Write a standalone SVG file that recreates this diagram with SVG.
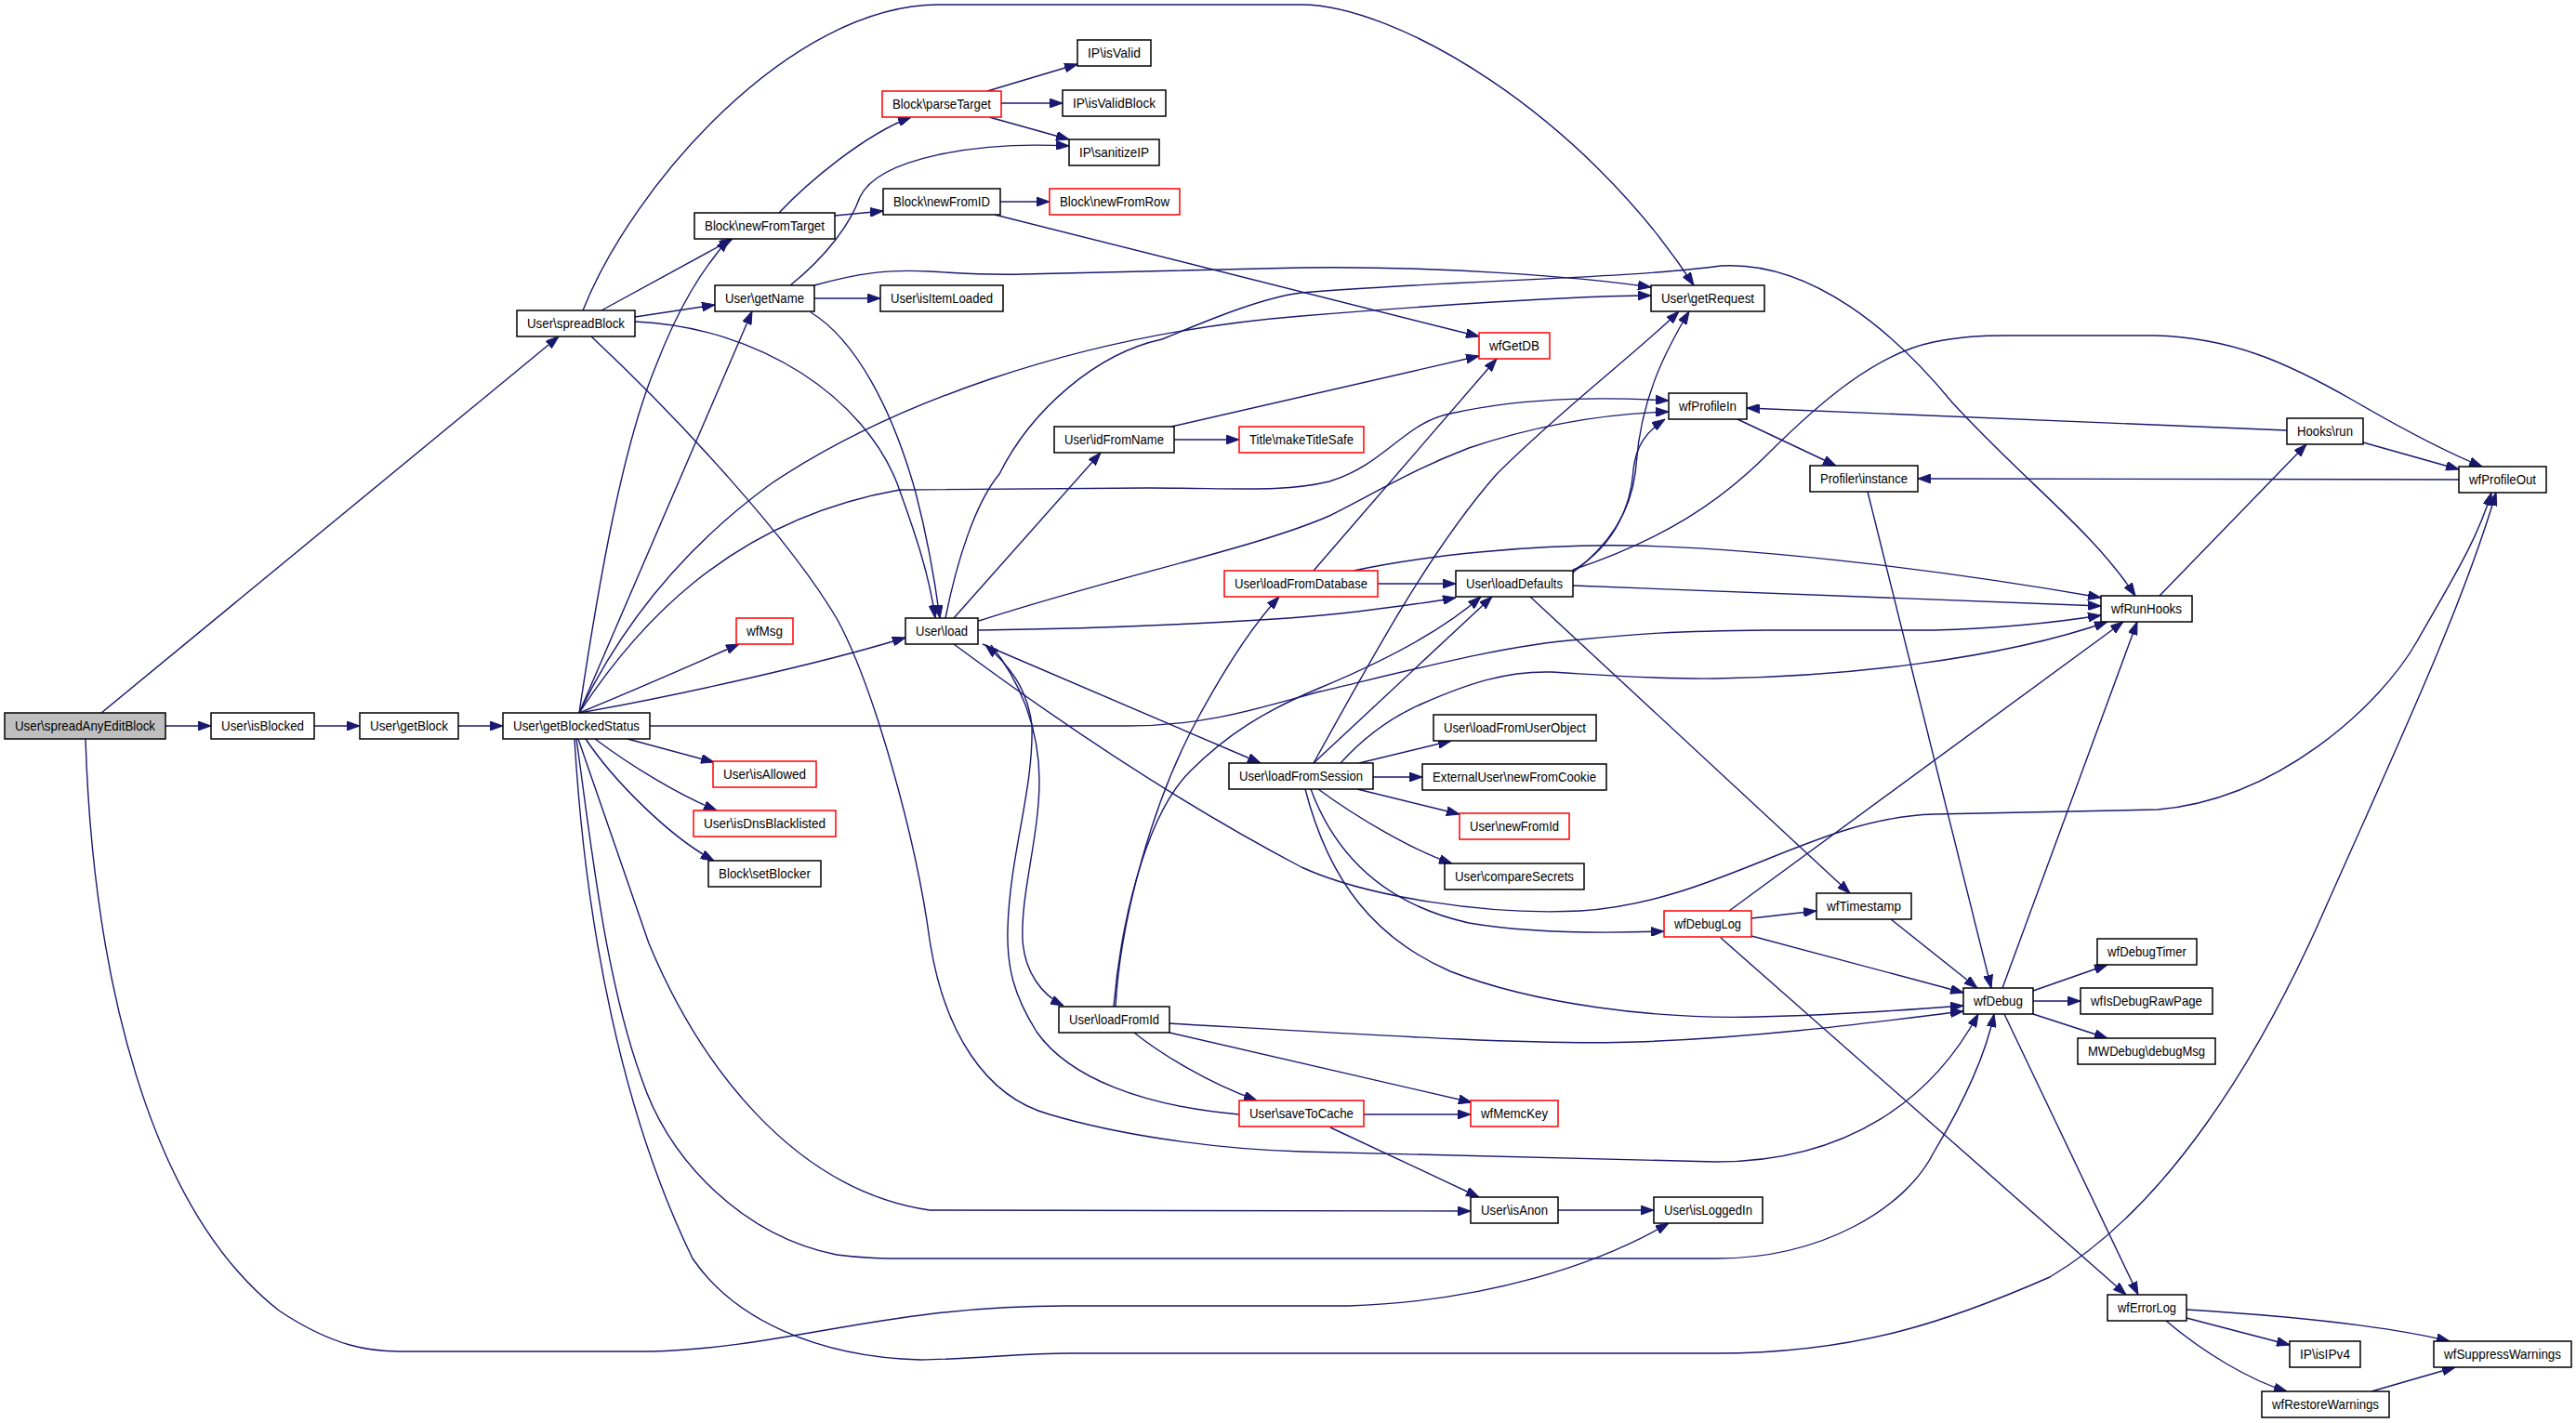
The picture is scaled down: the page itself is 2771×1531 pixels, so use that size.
<svg xmlns="http://www.w3.org/2000/svg" width="2771" height="1531" viewBox="0 0 2771 1531">
<style>
.n rect{fill:#fff;stroke:#000;stroke-width:1.5}
.r rect{stroke:#ff0000}
.g rect{fill:#bfbfbf}
.n text{font-family:"Liberation Sans",Arial,sans-serif;font-size:15px;text-anchor:middle;fill:#000}
#edges path{fill:none;stroke:#191970;stroke-width:1.4;marker-end:url(#a)}
</style>
<defs>
<marker id="a" viewBox="0 0 14 10" refX="14" refY="5" markerWidth="14" markerHeight="10" markerUnits="userSpaceOnUse" orient="auto" preserveAspectRatio="none"><path d="M0,0 L14,5 L0,10 z" fill="#191970" stroke="#191970" stroke-width="1"/></marker>
</defs>
<rect width="2771" height="1531" fill="#fff"/>
<g id="edges">
<path d="M178,781 L227,781"/>
<path d="M338,781 L387,781"/>
<path d="M493,781 L541,781"/>
<path d="M109,767 L601,362"/>
<path d="M92,795 C100,1050 160,1300 300,1410 C360,1450 400,1454 430,1454 L700,1454 C850,1450 950,1405 1146,1405 L1450,1405 C1600,1400 1720,1360 1795,1316"/>
<path d="M627,334 C680,200 850,5 1010,5 L1400,5 C1500,5 1700,120 1822,307"/>
<path d="M647,334 L788,257"/>
<path d="M683,341 L769,328"/>
<path d="M683,346 C820,352 930,430 965,520 C985,575 1000,620 1006,665"/>
<path d="M636,362 C730,450 850,580 901,667 C940,740 985,900 1000,1011 C1015,1110 1060,1180 1129,1199 C1200,1220 1300,1236 1400,1239 L1846,1250 C1990,1250 2080,1180 2128,1091"/>
<path d="M623,767 C645,620 670,480 705,395 C730,330 755,290 784,257"/>
<path d="M623,767 L809,335"/>
<path d="M623,767 C660,690 720,600 830,520 C950,440 1150,360 1400,340 C1550,328 1700,318 1776,318"/>
<path d="M623,767 C680,680 780,560 968,527 L1236,525 C1330,525 1380,530 1430,518 C1490,500 1510,455 1560,445 C1650,425 1740,428 1795,431"/>
<path d="M623,767 Q700,735 795,693"/>
<path d="M623,767 C720,750 880,715 974,686"/>
<path d="M699,781 L1213,781 C1300,781 1360,760 1420,744 C1530,718 1620,694 1700,688 C1760,682 1800,679 1900,678 L2080,678 C2150,676 2210,670 2260,662"/>
<path d="M675,795 L768,820"/>
<path d="M640,795 C680,825 730,855 771,872"/>
<path d="M630,795 C660,840 720,900 768,926"/>
<path d="M622,795 L698,1015 C750,1140 850,1280 1000,1302 L1582,1303"/>
<path d="M620,795 C635,900 650,1050 690,1160 C720,1250 800,1330 900,1350 C930,1354 950,1354 980,1354 L1846,1354 C1960,1354 2050,1300 2080,1240 C2110,1190 2135,1140 2145,1091"/>
<path d="M618,795 C630,1000 670,1200 745,1354 C790,1420 880,1460 990,1463 C1050,1462 1100,1456 1150,1456 L1846,1456 C2000,1456 2100,1420 2205,1374 C2330,1300 2430,1140 2500,980 C2580,800 2650,650 2685,530"/>
<path d="M838,229 C870,195 930,145 980,126"/>
<path d="M898,232 L950,227"/>
<path d="M1076,217 L1129,217"/>
<path d="M1070,231 L1591,362"/>
<path d="M1062,98 L1159,69"/>
<path d="M1077,111 L1143,111"/>
<path d="M1064,126 L1150,150"/>
<path d="M850,307 C890,275 915,240 925,212 C945,170 1050,152 1150,157"/>
<path d="M876,321 L947,321"/>
<path d="M872,336 C920,365 960,440 985,530 C998,580 1005,620 1011,665"/>
<path d="M876,307 C930,292 960,290 1000,292 C1030,294 1060,296 1100,295 L1400,288 C1550,286 1700,298 1776,309"/>
<path d="M1017,665 C1030,600 1050,540 1075,510 C1110,440 1180,380 1250,365 C1310,340 1360,320 1400,315 C1550,302 1750,300 1851,286 C1950,280 2040,360 2100,433 C2180,520 2250,570 2297,641"/>
<path d="M1026,665 L1184,487"/>
<path d="M1053,668 C1200,620 1350,590 1430,555 C1480,530 1520,505 1580,482 C1660,455 1730,445 1795,443"/>
<path d="M1053,678 C1200,676 1380,668 1460,658 C1500,653 1540,648 1566,643"/>
<path d="M1057,693 L1356,821"/>
<path d="M1066,694 C1095,730 1118,780 1118,840 C1118,900 1098,960 1100,1011 C1102,1045 1120,1070 1144,1082"/>
<path d="M1333,1199 C1230,1190 1150,1160 1115,1110 C1090,1070 1083,1040 1084,1000 C1086,920 1112,850 1110,780 C1105,740 1085,715 1060,694"/>
<path d="M1200,1083 C1205,990 1240,860 1290,770 C1320,715 1350,670 1376,642"/>
<path d="M1198,1083 C1205,1000 1230,880 1280,830 C1320,790 1360,765 1420,740 C1480,715 1550,680 1593,642"/>
<path d="M1220,1111 C1250,1135 1300,1165 1352,1184"/>
<path d="M1258,1111 L1583,1186"/>
<path d="M1258,1101 C1450,1112 1650,1125 1760,1121 C1900,1116 2030,1098 2112,1088"/>
<path d="M1467,1199 L1582,1199"/>
<path d="M1431,1213 L1591,1288"/>
<path d="M1676,1302 L1779,1302"/>
<path d="M1482,628 L1566,628"/>
<path d="M1413,614 L1610,386"/>
<path d="M1456,614 C1530,598 1650,585 1757,587 C1900,590 2100,615 2260,643"/>
<path d="M1263,473 L1333,473"/>
<path d="M1260,459 L1591,383"/>
<path d="M1413,821 C1480,700 1540,590 1610,510 C1680,440 1760,380 1806,335"/>
<path d="M1413,821 L1605,642"/>
<path d="M1442,821 C1470,790 1500,770 1530,757 C1580,735 1620,722 1668,723 C1720,726 1780,731 1846,730 C1980,728 2150,710 2267,669"/>
<path d="M1462,821 L1561,797"/>
<path d="M1477,836 L1530,836"/>
<path d="M1460,849 L1570,876"/>
<path d="M1418,849 C1460,880 1520,915 1562,929"/>
<path d="M1410,849 C1440,930 1500,975 1580,993 C1650,1005 1730,1004 1790,1002"/>
<path d="M1404,849 C1430,950 1480,1010 1560,1045 C1650,1080 1780,1097 1891,1094 C1980,1092 2060,1086 2112,1082"/>
<path d="M1692,616 C1740,580 1757,540 1760,500 C1765,430 1790,380 1817,335"/>
<path d="M1692,614 C1740,585 1755,540 1757,505 C1760,480 1770,465 1791,451"/>
<path d="M1692,613 C1790,580 1850,540 1900,490 C1960,430 2020,380 2080,368 C2110,362 2130,361 2160,361 L2317,361 C2400,363 2460,390 2530,430 C2590,465 2640,490 2670,502"/>
<path d="M1692,630 L2260,652"/>
<path d="M1646,642 L1990,961"/>
<path d="M1860,980 L2284,669"/>
<path d="M1884,988 L1954,980"/>
<path d="M1884,1007 L2112,1068"/>
<path d="M1851,1009 L2287,1393"/>
<path d="M2034,989 L2127,1063"/>
<path d="M2009,529 L2142,1063"/>
<path d="M1869,451 L1975,501"/>
<path d="M2645,516 L2063,515"/>
<path d="M2460,463 L1879,439"/>
<path d="M2542,476 L2645,505"/>
<path d="M2323,641 L2481,478"/>
<path d="M2154,1063 L2299,669"/>
<path d="M2187,1066 L2267,1038"/>
<path d="M2187,1077 L2238,1077"/>
<path d="M2187,1091 L2267,1117"/>
<path d="M2156,1091 L2300,1393"/>
<path d="M2352,1418 L2463,1447"/>
<path d="M2352,1409 C2450,1415 2560,1425 2635,1443"/>
<path d="M2330,1421 C2370,1455 2420,1485 2460,1497"/>
<path d="M2551,1497 L2641,1471"/>
<path d="M1026,693 C1150,785 1280,870 1400,933 C1470,965 1600,985 1700,980 C1850,970 1950,880 2080,876 L2321,871 C2450,860 2560,760 2600,690 C2640,620 2665,580 2680,530"/>
</g>
<g id="n1" class="n g"><rect x="5" y="767" width="173" height="28"/><text x="91.5" y="786" textLength="151" lengthAdjust="spacingAndGlyphs">User\spreadAnyEditBlock</text></g>
<g id="n2" class="n"><rect x="227" y="767" width="111" height="28"/><text x="282.5" y="786" textLength="89" lengthAdjust="spacingAndGlyphs">User\isBlocked</text></g>
<g id="n3" class="n"><rect x="387" y="767" width="106" height="28"/><text x="440" y="786" textLength="84" lengthAdjust="spacingAndGlyphs">User\getBlock</text></g>
<g id="n4" class="n"><rect x="541" y="767" width="158" height="28"/><text x="620" y="786" textLength="136" lengthAdjust="spacingAndGlyphs">User\getBlockedStatus</text></g>
<g id="n5" class="n"><rect x="556" y="334" width="127" height="28"/><text x="619.5" y="353" textLength="105" lengthAdjust="spacingAndGlyphs">User\spreadBlock</text></g>
<g id="n6" class="n"><rect x="747" y="229" width="151" height="28"/><text x="822.5" y="248" textLength="129" lengthAdjust="spacingAndGlyphs">Block\newFromTarget</text></g>
<g id="n7" class="n"><rect x="769" y="307" width="107" height="28"/><text x="822.5" y="326" textLength="85" lengthAdjust="spacingAndGlyphs">User\getName</text></g>
<g id="n8" class="n r"><rect x="792" y="665" width="61" height="28"/><text x="822.5" y="684" textLength="39" lengthAdjust="spacingAndGlyphs">wfMsg</text></g>
<g id="n9" class="n r"><rect x="767" y="819" width="111" height="28"/><text x="822.5" y="838" textLength="89" lengthAdjust="spacingAndGlyphs">User\isAllowed</text></g>
<g id="n10" class="n r"><rect x="746" y="872" width="153" height="28"/><text x="822.5" y="891" textLength="131" lengthAdjust="spacingAndGlyphs">User\isDnsBlacklisted</text></g>
<g id="n11" class="n"><rect x="762" y="926" width="121" height="28"/><text x="822.5" y="945" textLength="99" lengthAdjust="spacingAndGlyphs">Block\setBlocker</text></g>
<g id="n12" class="n r"><rect x="949" y="98" width="128" height="28"/><text x="1013" y="117" textLength="106" lengthAdjust="spacingAndGlyphs">Block\parseTarget</text></g>
<g id="n13" class="n"><rect x="950" y="203" width="126" height="28"/><text x="1013" y="222" textLength="104" lengthAdjust="spacingAndGlyphs">Block\newFromID</text></g>
<g id="n14" class="n"><rect x="947" y="307" width="132" height="28"/><text x="1013" y="326" textLength="110" lengthAdjust="spacingAndGlyphs">User\isItemLoaded</text></g>
<g id="n15" class="n"><rect x="974" y="665" width="78" height="28"/><text x="1013" y="684" textLength="56" lengthAdjust="spacingAndGlyphs">User\load</text></g>
<g id="n16" class="n"><rect x="1159" y="43" width="79" height="28"/><text x="1198.5" y="62" textLength="57" lengthAdjust="spacingAndGlyphs">IP\isValid</text></g>
<g id="n17" class="n"><rect x="1143" y="97" width="111" height="28"/><text x="1198.5" y="116" textLength="89" lengthAdjust="spacingAndGlyphs">IP\isValidBlock</text></g>
<g id="n18" class="n"><rect x="1150" y="150" width="97" height="28"/><text x="1198.5" y="169" textLength="75" lengthAdjust="spacingAndGlyphs">IP\sanitizeIP</text></g>
<g id="n19" class="n r"><rect x="1129" y="203" width="140" height="28"/><text x="1199" y="222" textLength="118" lengthAdjust="spacingAndGlyphs">Block\newFromRow</text></g>
<g id="n20" class="n"><rect x="1134" y="459" width="129" height="28"/><text x="1198.5" y="478" textLength="107" lengthAdjust="spacingAndGlyphs">User\idFromName</text></g>
<g id="n21" class="n"><rect x="1139" y="1083" width="119" height="28"/><text x="1198.5" y="1102" textLength="97" lengthAdjust="spacingAndGlyphs">User\loadFromId</text></g>
<g id="n22" class="n r"><rect x="1333" y="459" width="134" height="28"/><text x="1400" y="478" textLength="112" lengthAdjust="spacingAndGlyphs">Title\makeTitleSafe</text></g>
<g id="n23" class="n r"><rect x="1317" y="614" width="165" height="28"/><text x="1399.5" y="633" textLength="143" lengthAdjust="spacingAndGlyphs">User\loadFromDatabase</text></g>
<g id="n24" class="n"><rect x="1322" y="821" width="155" height="28"/><text x="1399.5" y="840" textLength="133" lengthAdjust="spacingAndGlyphs">User\loadFromSession</text></g>
<g id="n25" class="n r"><rect x="1333" y="1184" width="134" height="28"/><text x="1400" y="1203" textLength="112" lengthAdjust="spacingAndGlyphs">User\saveToCache</text></g>
<g id="n26" class="n r"><rect x="1591" y="358" width="76" height="28"/><text x="1629" y="377" textLength="54" lengthAdjust="spacingAndGlyphs">wfGetDB</text></g>
<g id="n27" class="n"><rect x="1566" y="614" width="126" height="28"/><text x="1629" y="633" textLength="104" lengthAdjust="spacingAndGlyphs">User\loadDefaults</text></g>
<g id="n28" class="n"><rect x="1542" y="769" width="175" height="28"/><text x="1629.5" y="788" textLength="153" lengthAdjust="spacingAndGlyphs">User\loadFromUserObject</text></g>
<g id="n29" class="n"><rect x="1530" y="822" width="198" height="28"/><text x="1629" y="841" textLength="176" lengthAdjust="spacingAndGlyphs">ExternalUser\newFromCookie</text></g>
<g id="n30" class="n r"><rect x="1570" y="875" width="118" height="28"/><text x="1629" y="894" textLength="96" lengthAdjust="spacingAndGlyphs">User\newFromId</text></g>
<g id="n31" class="n"><rect x="1554" y="929" width="150" height="28"/><text x="1629" y="948" textLength="128" lengthAdjust="spacingAndGlyphs">User\compareSecrets</text></g>
<g id="n32" class="n r"><rect x="1582" y="1184" width="94" height="28"/><text x="1629" y="1203" textLength="72" lengthAdjust="spacingAndGlyphs">wfMemcKey</text></g>
<g id="n33" class="n"><rect x="1582" y="1288" width="94" height="28"/><text x="1629" y="1307" textLength="72" lengthAdjust="spacingAndGlyphs">User\isAnon</text></g>
<g id="n34" class="n"><rect x="1776" y="307" width="122" height="28"/><text x="1837" y="326" textLength="100" lengthAdjust="spacingAndGlyphs">User\getRequest</text></g>
<g id="n35" class="n"><rect x="1795" y="423" width="84" height="28"/><text x="1837" y="442" textLength="62" lengthAdjust="spacingAndGlyphs">wfProfileIn</text></g>
<g id="n36" class="n r"><rect x="1790" y="980" width="94" height="28"/><text x="1837" y="999" textLength="72" lengthAdjust="spacingAndGlyphs">wfDebugLog</text></g>
<g id="n37" class="n"><rect x="1779" y="1288" width="117" height="28"/><text x="1837.5" y="1307" textLength="95" lengthAdjust="spacingAndGlyphs">User\isLoggedIn</text></g>
<g id="n38" class="n"><rect x="1947" y="501" width="116" height="28"/><text x="2005" y="520" textLength="94" lengthAdjust="spacingAndGlyphs">Profiler\instance</text></g>
<g id="n39" class="n"><rect x="1954" y="961" width="102" height="28"/><text x="2005" y="980" textLength="80" lengthAdjust="spacingAndGlyphs">wfTimestamp</text></g>
<g id="n40" class="n"><rect x="2112" y="1063" width="75" height="28"/><text x="2149.5" y="1082" textLength="53" lengthAdjust="spacingAndGlyphs">wfDebug</text></g>
<g id="n41" class="n"><rect x="2260" y="641" width="98" height="28"/><text x="2309" y="660" textLength="76" lengthAdjust="spacingAndGlyphs">wfRunHooks</text></g>
<g id="n42" class="n"><rect x="2256" y="1010" width="107" height="28"/><text x="2309.5" y="1029" textLength="85" lengthAdjust="spacingAndGlyphs">wfDebugTimer</text></g>
<g id="n43" class="n"><rect x="2238" y="1063" width="142" height="28"/><text x="2309" y="1082" textLength="120" lengthAdjust="spacingAndGlyphs">wfIsDebugRawPage</text></g>
<g id="n44" class="n"><rect x="2235" y="1117" width="148" height="28"/><text x="2309" y="1136" textLength="126" lengthAdjust="spacingAndGlyphs">MWDebug\debugMsg</text></g>
<g id="n45" class="n"><rect x="2267" y="1393" width="85" height="28"/><text x="2309.5" y="1412" textLength="63" lengthAdjust="spacingAndGlyphs">wfErrorLog</text></g>
<g id="n46" class="n"><rect x="2460" y="450" width="82" height="28"/><text x="2501" y="469" textLength="60" lengthAdjust="spacingAndGlyphs">Hooks\run</text></g>
<g id="n47" class="n"><rect x="2463" y="1443" width="76" height="28"/><text x="2501" y="1462" textLength="54" lengthAdjust="spacingAndGlyphs">IP\isIPv4</text></g>
<g id="n48" class="n"><rect x="2433" y="1497" width="137" height="28"/><text x="2501.5" y="1516" textLength="115" lengthAdjust="spacingAndGlyphs">wfRestoreWarnings</text></g>
<g id="n49" class="n"><rect x="2645" y="502" width="94" height="28"/><text x="2692" y="521" textLength="72" lengthAdjust="spacingAndGlyphs">wfProfileOut</text></g>
<g id="n50" class="n"><rect x="2618" y="1443" width="148" height="28"/><text x="2692" y="1462" textLength="126" lengthAdjust="spacingAndGlyphs">wfSuppressWarnings</text></g>
</svg>
